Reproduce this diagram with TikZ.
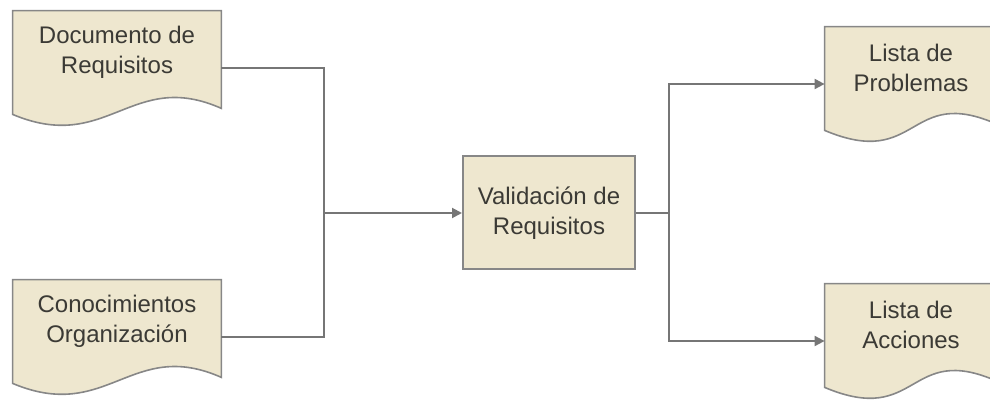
\documentclass[tikz,border=0pt]{standalone}
\usepackage{fontspec}
\setmainfont{Liberation Sans}
\usetikzlibrary{arrows.meta,backgrounds,calc}

\definecolor{paperfill}{HTML}{EEE7CF}
\definecolor{edgegray}{HTML}{878787}
\definecolor{linkgray}{HTML}{767676}
\definecolor{textgray}{HTML}{3B3A35}

\newcommand\paperwave[1]{%
  \begin{pgfonlayer}{background}
    \begin{scope}
      \clip (0,0) rectangle (990,400);
      \draw[paper edge] (#1.north west) -- (#1.north east) -- ($(#1.south east)+(0,15)$)
        .. controls +(-90,-40) and +(95,40) .. ($(#1.south west)+(0,21)$) -- cycle;
    \end{scope}
  \end{pgfonlayer}}

\begin{document}
\begin{tikzpicture}[x=0.5pt,y=-0.5pt]
  \tikzset{
    label text/.style={text=textgray, align=center, font=\fontsize{12}{15}\selectfont},
    paper/.style={label text, minimum height=41pt, inner sep=0pt},
    paper edge/.style={draw=edgegray, fill=paperfill, line width=0.8pt},
    box/.style={label text, draw=edgegray, fill=paperfill, line width=1pt,
      minimum width=86pt, minimum height=56.5pt},
    link/.style={draw=linkgray, line width=1pt},
    arrow/.style={link, -{Triangle[length=5pt,width=5pt]}}
  }
  \useasboundingbox (0,0) rectangle (990,400);
  \foreach \name/\x/\y/\w/\txt in {%
    doc/117/52/208/{Documento de\\Requisitos},%
    con/117/321/208/{Conocimientos\\Organización},%
    prob/911/68/172/{Lista de\\Problemas},%
    acc/911/325/172/{Lista de\\Acciones}%
  } {
    \node[paper, minimum width=\w*0.5pt] (\name) at (\x, \y) {\txt};
    \paperwave{\name}
  }
  \node[box] (valid) at (549, 213) {Validación de\\Requisitos};
  \coordinate (join) at (324, 213);
  \coordinate (split) at (669, 213);
  \draw[link] ([yshift=-8pt]doc.east) -| (join);
  \draw[link] ([yshift=-8pt]con.east) -| (join);
  \draw[arrow] (join) -- (valid.west);
  \draw[link] (valid.east) -- (split);
  \draw[arrow] (split) |- ([yshift=-8pt]prob.west);
  \draw[arrow] (split) |- ([yshift=-8pt]acc.west);
\end{tikzpicture}
\end{document}
